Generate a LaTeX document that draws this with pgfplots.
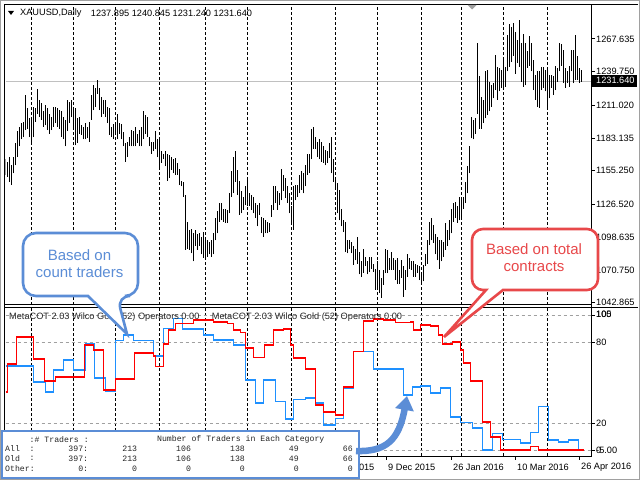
\documentclass[border=0pt]{standalone}
\usepackage{fontspec}
\setmainfont{Liberation Sans}
\setmonofont{Liberation Mono}
\usepackage{pgfplots}
\pgfplotsset{compat=1.18}
\usepackage{pgfplotstable}
\usetikzlibrary{arrows.meta}

\definecolor{cotred}{RGB}{255,0,0}
\definecolor{cotblue}{RGB}{30,144,255}
\definecolor{callblue}{RGB}{91,141,214}
\definecolor{callred}{RGB}{232,72,74}
\definecolor{levelgray}{RGB}{160,160,160}
\definecolor{pricegray}{RGB}{192,192,192}

\newcommand{\sm}{\fontsize{9.2}{11}\selectfont}

% XAUUSD daily bars: x position, high, low
\pgfplotstableread{
x hi lo
5 1165 1152
7 1163 1150
9 1167 1146
11 1160 1143
13 1167 1153
15 1179 1160
17 1189 1167
19 1193 1176
21 1196 1182
23 1197 1184
25 1220 1190
27 1209 1191
29 1200 1184
31 1199 1179
33 1210 1184
35 1209 1197
37 1225 1204
39 1216 1201
41 1213 1199
43 1206 1193
45 1211 1194
47 1209 1190
49 1204 1187
51 1201 1190
53 1210 1193
55 1210 1196
57 1209 1193
59 1207 1191
61 1206 1184
63 1201 1182
65 1199 1176
67 1216 1189
69 1214 1196
71 1216 1201
73 1209 1193
75 1209 1177
77 1200 1179
79 1201 1187
81 1194 1186
83 1193 1182
85 1196 1182
87 1193 1183
89 1197 1180
91 1220 1199
93 1228 1207
95 1226 1210
97 1233 1221
99 1226 1207
101 1218 1201
103 1216 1204
105 1216 1201
107 1210 1196
109 1209 1186
111 1193 1184
113 1195 1182
115 1194 1186
117 1204 1182
119 1196 1187
121 1195 1182
123 1188 1176
125 1179 1163
127 1180 1167
129 1184 1176
131 1190 1176
133 1189 1176
135 1193 1176
137 1187 1179
139 1190 1176
141 1193 1176
143 1206 1182
145 1203 1187
147 1201 1184
149 1184 1176
151 1180 1170
153 1180 1172
155 1189 1174
157 1182 1167
159 1182 1157
161 1172 1162
163 1170 1165
165 1172 1159
167 1170 1147
169 1169 1149
171 1167 1156
173 1165 1153
175 1166 1152
177 1162 1152
179 1157 1143
181 1147 1142
183 1146 1133
185 1135 1088
187 1112 1089
189 1105 1088
191 1106 1085
193 1102 1078
195 1105 1091
197 1101 1088
199 1102 1091
201 1099 1084
203 1103 1081
205 1099 1081
207 1096 1082
209 1095 1084
211 1096 1082
213 1102 1084
215 1115 1096
217 1121 1102
219 1128 1112
221 1128 1113
223 1123 1112
225 1123 1111
227 1122 1111
229 1136 1119
231 1155 1133
233 1167 1136
235 1172 1146
237 1156 1135
239 1147 1118
241 1138 1119
243 1133 1122
245 1142 1126
247 1149 1125
249 1136 1125
251 1135 1122
253 1133 1119
255 1128 1115
257 1126 1108
259 1128 1118
261 1116 1102
263 1115 1099
265 1113 1102
267 1112 1102
269 1111 1103
271 1126 1116
273 1142 1122
275 1142 1128
277 1138 1122
279 1136 1126
281 1157 1130
283 1152 1138
285 1149 1132
287 1142 1128
289 1136 1119
291 1125 1112
293 1142 1105
295 1143 1130
297 1143 1133
299 1152 1136
301 1155 1139
303 1153 1136
305 1160 1142
307 1170 1152
309 1170 1153
311 1191 1165
313 1193 1174
315 1184 1174
317 1180 1167
319 1182 1165
321 1180 1163
323 1176 1162
325 1173 1160
327 1172 1162
329 1179 1166
331 1184 1153
333 1165 1146
335 1150 1139
337 1145 1119
339 1139 1113
341 1123 1108
343 1113 1103
345 1112 1086
347 1096 1085
349 1096 1089
351 1095 1085
353 1091 1075
355 1089 1079
357 1099 1076
359 1086 1067
361 1078 1065
363 1089 1068
365 1082 1074
367 1078 1067
369 1082 1069
371 1082 1072
373 1076 1069
375 1072 1054
377 1078 1054
379 1071 1051
381 1064 1047
383 1071 1058
385 1089 1068
387 1088 1068
389 1081 1071
391 1086 1071
393 1081 1071
395 1079 1062
397 1081 1059
399 1071 1059
401 1079 1064
403 1074 1048
405 1071 1054
407 1084 1065
409 1081 1072
411 1078 1071
413 1078 1065
415 1076 1065
417 1075 1068
419 1074 1062
421 1067 1058
423 1075 1061
425 1084 1074
427 1096 1076
429 1112 1092
431 1115 1096
433 1109 1094
435 1101 1084
437 1099 1079
439 1096 1072
441 1096 1078
443 1095 1082
445 1111 1088
447 1105 1091
449 1113 1096
451 1123 1102
453 1128 1112
455 1129 1115
457 1125 1111
459 1133 1113
461 1133 1116
463 1133 1123
465 1146 1128
467 1159 1136
469 1176 1153
471 1201 1183
473 1199 1182
475 1200 1187
477 1264 1204
479 1236 1191
481 1218 1191
483 1216 1196
485 1240 1200
487 1241 1203
489 1231 1206
491 1228 1210
493 1230 1217
495 1254 1224
497 1244 1216
499 1243 1223
501 1241 1226
503 1251 1226
505 1244 1227
507 1271 1240
509 1280 1244
511 1278 1248
513 1281 1253
515 1274 1238
517 1267 1247
519 1284 1244
521 1264 1231
523 1272 1227
525 1264 1228
527 1257 1243
529 1270 1245
531 1264 1240
533 1250 1224
535 1237 1216
537 1240 1210
539 1240 1209
541 1244 1224
543 1244 1226
545 1241 1223
547 1243 1209
549 1237 1217
551 1237 1226
553 1236 1220
555 1245 1224
557 1243 1231
559 1264 1240
561 1263 1245
563 1258 1230
565 1243 1226
567 1240 1230
569 1245 1227
571 1258 1240
573 1258 1230
575 1271 1233
577 1253 1233
579 1243 1230
581 1241 1231
}\bars

% MetaCOT, total contracts (red)
\pgfplotstableread{
x v
5 43.3
7 63.8
16 84.1
33 67.5
44 51.4
55 54.6
84 78.0
93 74.3
103 44.8
115 52.9
134 71.9
153 69.9
155 62.0
163 78.7
168 89.1
175 94.0
193 96.5
213 95.2
227 94.0
233 89.1
240 87.1
245 75.6
253 68.9
264 78.0
273 89.1
283 89.8
290 78.0
293 68.2
305 60.1
315 33.7
323 28.6
335 26.3
343 47.0
353 73.1
363 95.7
373 97.0
383 96.5
395 94.5
410 95.2
413 89.1
420 92.8
430 92.0
438 85.4
442 78.7
452 80.4
460 74.3
463 64.7
470 51.4
482 21.4
490 10.3
500 0.5
530 3.0
538 0.5
583 0.5
}\redline

% MetaCOT, count of traders (blue)
\pgfplotstableread{
x v
5 62.5
33 50.9
45 43.5
53 59.6
63 66.9
73 59.6
85 78.7
94 53.7
105 44.1
115 81.2
123 85.4
133 81.2
153 69.9
163 90.3
173 97.7
182 89.6
203 85.4
213 81.7
233 78.0
245 52.0
255 35.0
263 52.0
275 36.2
285 23.2
293 37.9
305 38.7
315 35.2
323 19.0
335 23.9
343 46.3
353 73.1
373 60.3
403 41.1
412 47.0
420 47.7
430 42.6
440 46.3
450 24.9
460 20.7
472 16.8
482 0.5
492 12.8
502 8.4
520 5.7
530 13.3
538 32.5
548 7.9
558 6.6
568 7.9
578 0.5
581 0.5
}\blueline

\pgfplotsset{pane/.style={
    scale only axis, anchor=south west, width=586pt,
    xmin=5, xmax=591,
    axis line style={draw=none},
    xtick={31,73,115,159,205,247,291,335,377,421,461,503,547},
    xticklabels={}, xtick style={draw=none},
    ytick=\empty,
    xmajorgrids,
    grid style={black, line width=1pt, dash pattern=on 3pt off 2pt},
}}

\begin{document}
\begin{tikzpicture}
\useasboundingbox (0,0) rectangle (640pt,480pt);
\fill[white] (0,0) rectangle (640pt,480pt);

% price pane
\begin{axis}[pane, at={(5.5pt,175pt)}, height=300pt, ymin=1040.89, ymax=1296.61]
\addplot[pricegray, line width=1pt] coordinates {(5,1231.64) (591,1231.64)};
\addplot[draw=none, mark=none,
  error bars/.cd, y dir=plus, y explicit, error mark=none,
  error bar style={draw=black, solid, line width=1pt}]
  table[x=x, y=lo, y error expr=\thisrow{hi}-\thisrow{lo}] {\bars};
\end{axis}

% indicator pane
\begin{axis}[pane, at={(5.5pt,24pt)}, height=148pt, ymin=-3.91, ymax=105.31]
\addplot[levelgray, line width=1pt, dash pattern=on 3pt off 3pt] coordinates {(5,100) (591,100)};
\addplot[levelgray, line width=1pt, dash pattern=on 3pt off 3pt] coordinates {(5,80) (591,80)};
\addplot[levelgray, line width=1pt, dash pattern=on 3pt off 3pt] coordinates {(5,20) (591,20)};
\addplot[levelgray, line width=1pt, dash pattern=on 3pt off 3pt] coordinates {(5,0) (591,0)};
\addplot[cotblue, line width=1.6pt, const plot] table[x=x, y=v] {\blueline};
\addplot[cotred, line width=1.6pt, const plot] table[x=x, y=v] {\redline};
\end{axis}

% screen-pixel overlay (y downwards)
\begin{scope}[shift={(0,480pt)}, x=1pt, y=-1pt]
  \draw[levelgray, line width=1pt] (0.5,0.5) rectangle (639.5,479.5);
  \draw[black, line width=1pt] (4.5,456.5) -- (4.5,4.5) -- (638,4.5);
  \draw[black, line width=1pt] (591.5,4.5) -- (591.5,457);
  \draw[black, line width=1pt] (4.5,304.5) -- (591.5,304.5);
  \draw[black, line width=1pt] (4.5,307.5) -- (638,307.5);
  \draw[black, line width=1pt] (4.5,456.5) -- (591.5,456.5);
  % header
  \fill[black] (8,11) -- (14,11) -- (11,15) -- cycle;
  \node[anchor=west, inner sep=0, font=\sm] at (20,13) {XAUUSD,Daily};
  \node[anchor=west, inner sep=0, font=\sm] at (90.7,13) {1237.895 1240.845 1231.240 1231.640};
  \fill[levelgray] (467.5,5) -- (476.5,5) -- (472,9.5) -- cycle;
  % price scale
  \foreach \yy/\lab in {39.0/1267.635, 71.7/1239.750, 105.4/1211.020, 138.1/1183.135,
      170.8/1155.250, 204.5/1126.520, 237.3/1098.635, 270.0/1070.750, 302.7/1042.865} {
    \draw[black, line width=1pt] (591,\yy) -- (595,\yy);
    \node[anchor=west, inner sep=0, font=\sm] at (596,\yy) {\lab};
  }
  \fill[black] (591.5,74.8) rectangle (637,86.6);
  \node[anchor=west, inner sep=0, font=\sm, text=white] at (596,80.8) {1231.640};
  % indicator scale
  \foreach \yy in {315.2,342.3,423.3,450.7} {\draw[black, line width=1pt] (591,\yy) -- (595,\yy);}
  \node[anchor=west, inner sep=0, font=\sm] at (596,314.3) {105};
  \node[anchor=west, inner sep=0, font=\sm] at (596,314.3) {100};
  \node[anchor=west, inner sep=0, font=\sm] at (596,342.3) {80};
  \node[anchor=west, inner sep=0, font=\sm] at (596,423.3) {20};
  \node[anchor=west, inner sep=0, font=\sm] at (596,450.7) {0};
  \node[anchor=west, inner sep=0, font=\sm] at (596,450.7) {-5.00};
  \node[anchor=west, inner sep=0, font=\sm, text=black!85] at (9,316.7) {MetaCOT 2.03 Wilco Gold (52) Operators 0.00};
  \node[anchor=west, inner sep=0, font=\sm, text=black!85] at (211.7,316.7) {MetaCOT 2.03 Wilco Gold (52) Operators 0.00};
  % date axis (the label of 26 Oct 2015 shows only its end beside the table)
  \foreach \xx/\lab in {388/9 Dec 2015, 453/26 Jan 2016, 517/10 Mar 2016, 581/26 Apr 2016} {
    \draw[black, line width=1pt] (\xx-1.5,456.5) -- (\xx-1.5,460);
    \node[anchor=west, inner sep=0, font=\sm] at (\xx,467.3) {\lab};
  }
  \node[anchor=west, inner sep=0, font=\sm] at (358.8,467.3) {015};
  % callout: count traders
  \draw[callblue, line width=2.6pt, fill=white]
    (23,264) [rounded corners=13pt] -- (23,233) -- (138,233) -- (138,296) -- (117,296)
    [sharp corners] -- (127,334) -- (88,296) -- (60,296) [rounded corners=13pt] -- (23,296) -- cycle;
  \node[align=center, inner sep=0, text=callblue, font=\fontsize{15}{17.5}\selectfont] at (79.5,263.5) {Based on\\count traders};
  % callout: total contracts
  \draw[callred, line width=2.6pt, fill=white]
    (472,260) [rounded corners=11pt] -- (472,229) -- (598,229) -- (598,290) -- (520,290)
    [sharp corners] -- (503,290) -- (444,337) -- (486,290) -- (485,290) [rounded corners=11pt] -- (472,290) -- cycle;
  \node[align=center, inner sep=0, text=callred, font=\fontsize{15}{17.5}\selectfont] at (534,257.5) {Based on total\\contracts};
  % trader table
  \draw[callblue, line width=2pt, fill=white] (2,430.7) rectangle (359,477.5);
  \begin{scope}[every node/.style={inner sep=0, text=black!85, font=\fontsize{8.2}{9}\ttfamily}]
    \node[anchor=west] at (29.5,439.3) {:\# Traders :};
    \node[anchor=west] at (156.9,439.3) {Number of Traders in Each Category};
    \node[anchor=west] at (5,449) {All};
    \node[anchor=west] at (29.5,449) {:};
    \node[anchor=west] at (5,458.8) {Old};
    \node[anchor=west] at (29.5,458.8) {:};
    \node[anchor=west] at (5,468.6) {Other:};
    \foreach \yy/\a/\b/\c/\d/\e/\f in {449/397:/213/106/138/49/66, 458.8/397:/213/106/138/49/66, 468.6/0:/0/0/0/0/0} {
      \node[anchor=east] at (88.3,\yy) {\a};
      \node[anchor=east] at (137.3,\yy) {\b};
      \node[anchor=east] at (191.2,\yy) {\c};
      \node[anchor=east] at (245.1,\yy) {\d};
      \node[anchor=east] at (299,\yy) {\e};
      \node[anchor=east] at (352.9,\yy) {\f};
    }
  \end{scope}
  % arrow from table to blue line
  \draw[callblue, line width=6.5pt, -{Triangle[width=18pt,length=14pt]}]
    (356,451) .. controls (386,452) and (399,440) .. (407,396);
\end{scope}
\end{tikzpicture}
\end{document}
